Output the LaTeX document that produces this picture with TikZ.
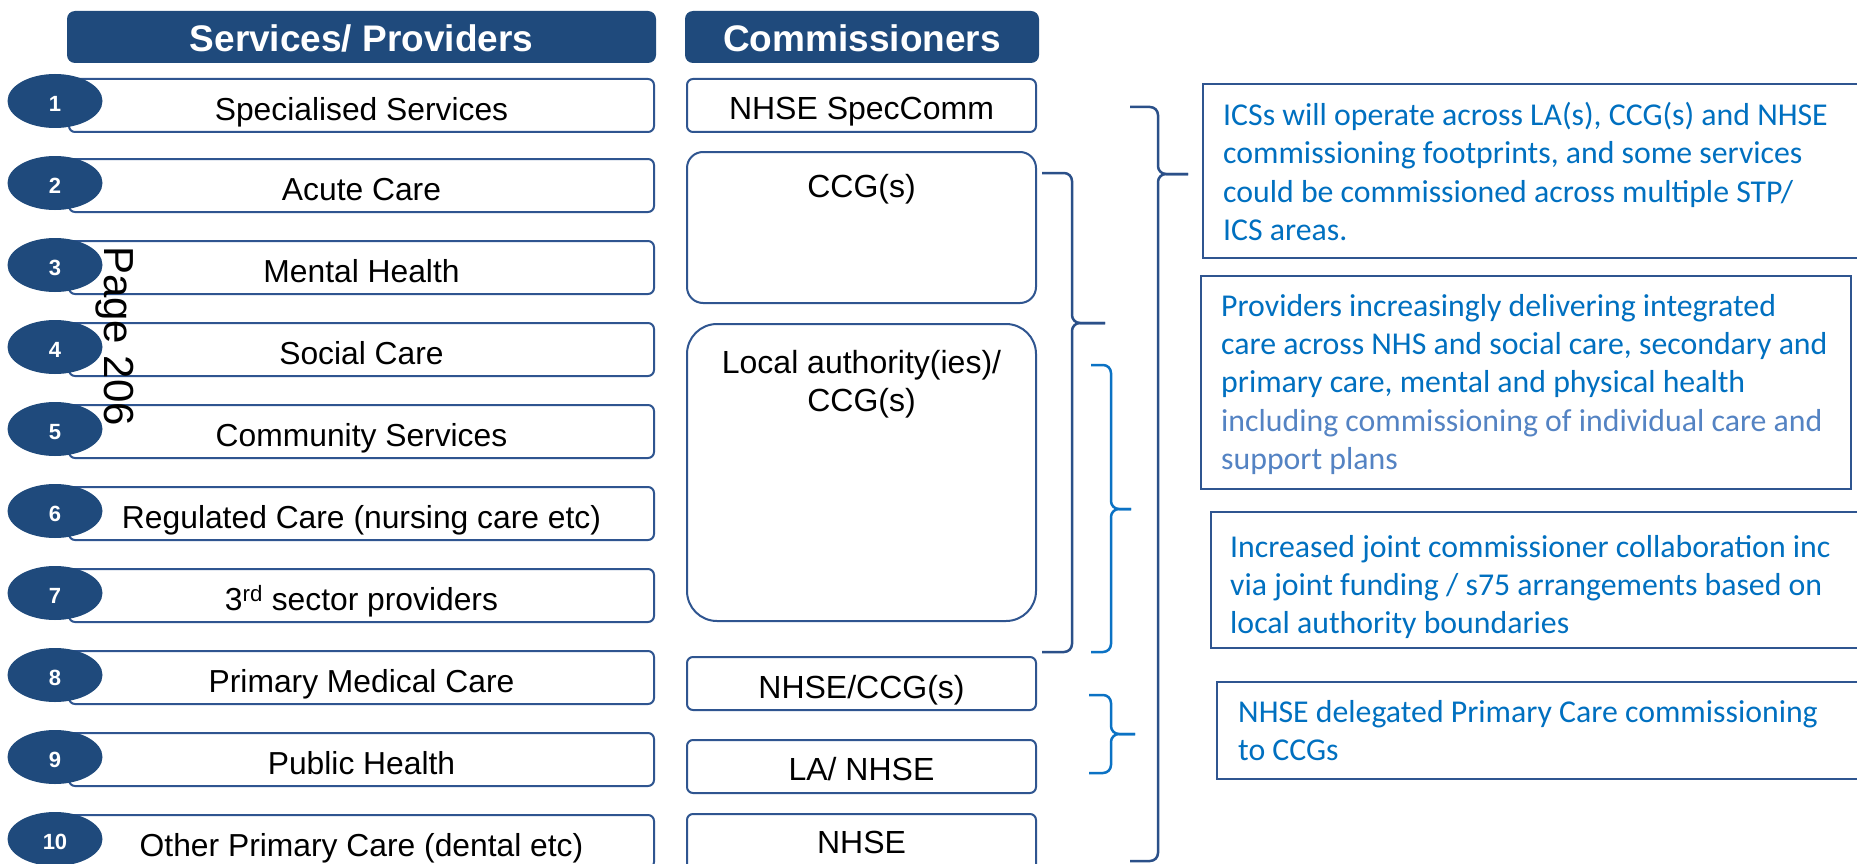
\documentclass[tikz,border=0pt]{standalone}
\usepackage{fontspec}
\setmainfont{Liberation Sans}
\newfontfamily\notefont{Carlito}
\usetikzlibrary{shapes.geometric}

\definecolor{hdrblue}{HTML}{1F4A7C}
\definecolor{boxblue}{HTML}{2F5590}
\definecolor{bracedark}{HTML}{2B5089}
\definecolor{bracelight}{HTML}{0B72C4}
\definecolor{notetext}{HTML}{0070C0}
\definecolor{notesoft}{HTML}{5483C3}

% right-hand brace: style, start x, top y, spine x, tip y, tip x, bottom y
\newcommand\drawbrace[7]{%
  \draw[#1,rounded corners=8pt] (#2,#3) -- (#4,#3) -- (#4,#5) -- (#6,#5);
  \draw[#1,rounded corners=8pt] (#6,#5) -- (#4,#5) -- (#4,#7) -- (#2,#7);
}

\tikzset{
  hdr/.style={fill=hdrblue, rounded corners=8pt, inner sep=0pt,
    minimum height=52pt, text=white,
    font=\bfseries\fontsize{37}{44}\selectfont, text height=30pt, text depth=0pt},
  svcbox/.style={draw=boxblue, line width=2pt, rounded corners=6pt, inner sep=0pt,
    minimum width=585pt, minimum height=53pt,
    font=\fontsize{31.8}{38}\selectfont, text height=30pt, text depth=0pt},
  numbadge/.style={ellipse, fill=hdrblue, inner sep=0pt,
    minimum width=95pt, minimum height=54pt, text=white,
    font=\bfseries\fontsize{22}{26}\selectfont, text height=21pt, text depth=0pt},
  combox/.style={draw=boxblue, line width=2pt, inner sep=0pt, minimum width=349pt},
  comtext/.style={inner sep=0pt, anchor=base, font=\fontsize{32}{38}\selectfont},
  notebox/.style={draw=boxblue, line width=2pt},
  noteline/.style={inner sep=0pt, anchor=base west, text=notetext,
    font=\notefont\fontsize{31.8}{38}\selectfont},
  darkbrace/.style={draw=bracedark, line width=2.5pt},
  lightbrace/.style={draw=bracelight, line width=2.5pt},
}

\begin{document}
\begin{tikzpicture}[x=1pt,y=-1pt]
  \clip (0,0) rectangle (1857,864);
  \fill[white] (0,0) rectangle (1857,864);

  % column headers
  \node[hdr, minimum width=589pt] (hsvc) at (361.5,37) {Services/ Providers};
  \node[hdr, minimum width=354pt] (hcom) at (862,37) {Commissioners};

  % service rows
  \node[svcbox, yshift=-2pt] (s1) at (361.5,103.5) {Specialised Services};
  \node[svcbox] (s2) at (361.5,185.5) {Acute Care};
  \node[svcbox] (s3) at (361.5,267.5) {Mental Health};
  \node[svcbox] (s4) at (361.5,349.5) {Social Care};
  \node[svcbox] (s5) at (361.5,431.5) {Community Services};
  \node[svcbox] (s6) at (361.5,513.5) {Regulated Care (nursing care etc)};
  \node[svcbox] (s7) at (361.5,595.5) {3\textsuperscript{rd} sector providers};
  \node[svcbox] (s8) at (361.5,677.5) {Primary Medical Care};
  \node[svcbox] (s9) at (361.5,759.5) {Public Health};
  \node[svcbox] (s10) at (361.5,841.5) {Other Primary Care (dental etc)};

  % numbered badges
  \foreach \i in {1,...,10}
    \node[numbadge] (n\i) at (55,{101+82*(\i-1)}) {\i};

  % page stamp
  \node[inner sep=0pt, anchor=base west, rotate=-90,
        font=\fontsize{42}{48}\selectfont] (stamp) at (104,246) {Page 206};

  % commissioners
  \node[combox, rounded corners=6pt, minimum height=53pt] (c1) at (861.5,105.5) {};
  \node[combox, rounded corners=16pt, minimum height=151pt] (c2) at (861.5,227.5) {};
  \node[combox, rounded corners=30pt, minimum height=297pt] (c3) at (861.5,472.5) {};
  \node[combox, rounded corners=6pt, minimum height=53pt] (c4) at (861.5,683.5) {};
  \node[combox, rounded corners=6pt, minimum height=53pt] (c5) at (861.5,766.5) {};
  \node[combox, rounded corners=6pt, minimum height=60pt] (c6) at (861.5,844) {};

  \node[comtext] (c1t) at (861.5,120) {NHSE SpecComm};
  \node[comtext] (c2t) at (861.5,197) {CCG(s)};
  \node[comtext] (c3ta) at (861.5,373) {Local authority(ies)/};
  \node[comtext] (c3tb) at (861.5,411) {CCG(s)};
  \node[comtext] (c4t) at (861.5,698) {NHSE/CCG(s)};
  \node[comtext] (c5t) at (861.5,780) {LA/ NHSE};
  \node[comtext] (c6t) at (861.5,853) {NHSE};

  % grouping braces
  \drawbrace{darkbrace}{1130}{107}{1158}{174}{1188}{861}
  \drawbrace{darkbrace}{1042}{173}{1072}{323}{1105}{652}
  \drawbrace{lightbrace}{1091}{365}{1111}{509}{1131}{652}
  \drawbrace{lightbrace}{1089}{695}{1111}{734}{1135}{773}

  % explanatory notes
  \draw[notebox] (1875,84) -- (1203,84) -- (1203,258) -- (1875,258);
  \draw[notebox] (1201,276) rectangle (1851,489);
  \draw[notebox] (1875,512) -- (1211,512) -- (1211,648) -- (1875,648);
  \draw[notebox] (1875,682) -- (1217,682) -- (1217,779) -- (1875,779);

  \node[noteline] (a1) at (1223,126) {ICSs will operate across LA(s), CCG(s) and NHSE};
  \node[noteline] (a2) at (1223,164) {commissioning footprints, and some services};
  \node[noteline] (a3) at (1223,202) {could be commissioned across multiple STP/};
  \node[noteline] (a4) at (1223,240) {ICS areas.};

  \node[noteline] (b1) at (1221,316) {Providers increasingly delivering integrated};
  \node[noteline] (b2) at (1221,354) {care across NHS and social care, secondary and};
  \node[noteline] (b3) at (1221,392.5) {primary care, mental and physical health};
  \node[noteline, text=notesoft] (b4) at (1221,431) {including commissioning of individual care and};
  \node[noteline, text=notesoft] (b5) at (1221,469.5) {support plans};

  \node[noteline] (d1) at (1230,557) {Increased joint commissioner collaboration inc};
  \node[noteline] (d2) at (1230,595) {via joint funding / s75 arrangements based on};
  \node[noteline] (d3) at (1230,633) {local authority boundaries};

  \node[noteline] (e1) at (1238,722) {NHSE delegated Primary Care commissioning};
  \node[noteline] (e2) at (1238,760) {to CCGs};
\end{tikzpicture}
\end{document}
